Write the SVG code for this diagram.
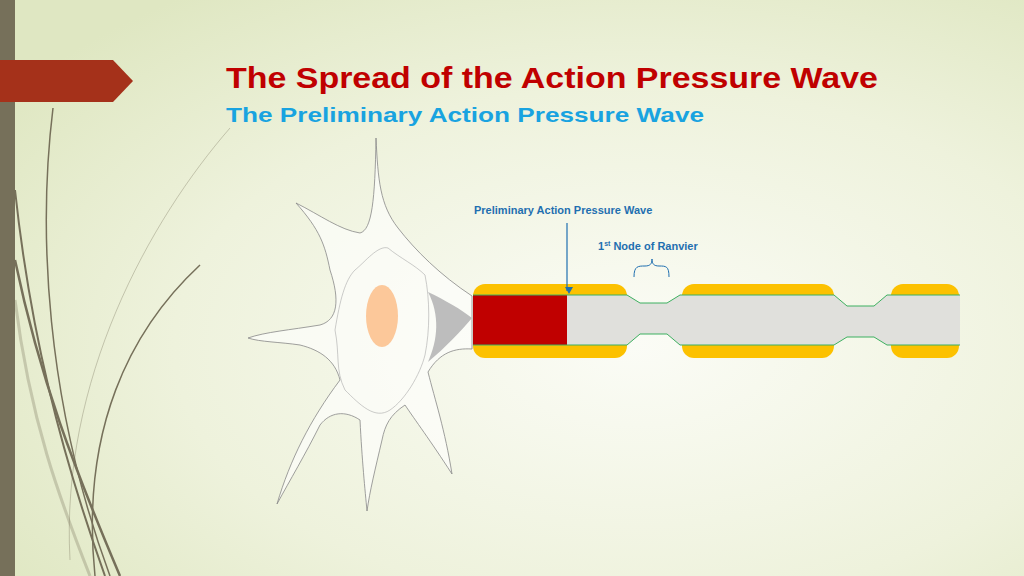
<svg xmlns="http://www.w3.org/2000/svg" width="1024" height="576" viewBox="0 0 1024 576">
<defs>
<radialGradient id="bg" cx="0.62" cy="0.6" r="0.75">
<stop offset="0" stop-color="#fbfcf6"/><stop offset="0.6" stop-color="#eef2dc"/><stop offset="1" stop-color="#dfe7c2"/>
</radialGradient>
<marker id="ah" markerWidth="8" markerHeight="8" refX="4" refY="6" orient="auto" markerUnits="userSpaceOnUse"><path d="M0,0 L8,0 L4,7 Z" transform="rotate(-90 4 4)" fill="#1f6fb0"/></marker>
</defs>
<style>
.deco{fill:none;stroke:#76705a}
.cell{fill:#fff;fill-opacity:0.6;stroke:#888;stroke-width:0.8}
.lbl{font-family:"Liberation Sans",Arial,sans-serif;font-weight:bold;fill:#1f6fb0;font-size:11px}
.myelin{fill:#fcc100}
.mem{fill:none;stroke:#3db060;stroke-width:1}
</style>
<rect width="1024" height="576" fill="url(#bg)"/>
<g id="decor">
<rect x="0" y="0" width="15" height="576" fill="#76705a"/>
<path d="M0,60 H113 L133,81 L113,102 H0 Z" fill="#a5311a"/>
<path class="deco" stroke-width="1.5" d="M53,108 C38,230 45,400 110,576"/>
<path class="deco" stroke-width="2" d="M15,190 C30,330 60,450 105,576"/>
<path class="deco" stroke-width="2.5" d="M15,260 C40,380 75,470 120,576"/>
<path class="deco" stroke-width="1.5" d="M200,265 C130,330 80,430 95,576"/>
<path class="deco" stroke-width="1" stroke-opacity="0.35" d="M230,128 C150,220 60,380 70,560"/>
<path class="deco" stroke-width="3" stroke-opacity="0.3" d="M15,300 C30,420 60,500 90,576"/>
</g>
<g id="title">
<text x="226" y="88" font-family="'Liberation Sans',Arial,sans-serif" font-weight="bold" font-size="29" fill="#c00000" textLength="652" lengthAdjust="spacingAndGlyphs">The Spread of the Action Pressure Wave</text>
<text x="226" y="122" font-family="'Liberation Sans',Arial,sans-serif" font-weight="bold" font-size="21" fill="#19a3e0" textLength="478" lengthAdjust="spacingAndGlyphs">The Preliminary Action Pressure Wave</text>
</g>
<g id="neuron">
<path class="cell" d="M376,138 C378,180 380,205 398,228 C415,250 440,275 472,296 L472,349 C455,348 440,352 428,372 C435,400 445,430 452,474 C430,440 415,420 405,405 C390,415 385,425 382,440 C375,470 370,490 367,511 C365,490 362,460 360,420 C345,410 330,412 320,425 C305,455 290,480 277,504 C290,460 310,420 340,380 C335,360 320,350 300,345 C280,342 260,342 248,338 C265,332 290,330 320,325 C338,320 340,300 330,270 C325,245 320,230 296,203 C320,215 340,230 360,233 C372,230 375,200 376,138 Z"/>
<path fill="none" stroke="#aaa" stroke-width="0.6" d="M388,248 C400,258 415,265 425,275 C430,300 430,330 425,355 C420,375 405,400 390,410 C375,420 360,405 345,390 C335,370 340,355 335,330 C340,300 345,280 355,270 C365,262 378,245 388,248 Z"/>
<ellipse cx="382" cy="316" rx="16" ry="31" fill="#fcc89a"/>
<path d="M428,292 C445,300 462,310 472,318 C462,330 445,348 428,362 C438,340 440,315 428,292 Z" fill="#bdbdbd"/>
</g>
<g id="axon">
<rect class="myelin" x="473" y="284" width="154" height="74" rx="12"/>
<rect class="myelin" x="682" y="284" width="152" height="74" rx="12"/>
<rect class="myelin" x="891" y="284" width="68" height="74" rx="12"/>
<path d="M473,295 H627 L640,303 H667 L680,295 H834 L847,306 H874 L887,295 H960 V345 H887 L874,337 H847 L834,345 H680 L667,334 H640 L627,345 H473 Z" fill="#e0e0dc"/>
<rect x="473" y="295" width="94" height="50" fill="#c00000"/>
<path class="mem" d="M473,295 H627 L640,303 H667 L680,295 H834 L847,306 H874 L887,295 H960"/>
<path class="mem" d="M473,345 H627 L640,334 H667 L680,345 H834 L847,337 H874 L887,345 H960"/>
</g>
<g id="labels">
<text class="lbl" x="474" y="214">Preliminary Action Pressure Wave</text>
<text class="lbl" x="598" y="250">1<tspan font-size="7" dy="-4">st</tspan><tspan dy="4"> Node of Ranvier</tspan></text>
</g>
<g id="connectors">
<line x1="567" y1="223" x2="567" y2="291" stroke="#1f6fb0" stroke-width="1.2" marker-end="url(#ah)"/>
<path d="M634,277 C634,266 638,266 645,266 C650,266 652,264 652,259 C652,264 654,266 659,266 C666,266 669,266 669,277" fill="none" stroke="#1f6fb0" stroke-width="1"/>
</g>
</svg>
